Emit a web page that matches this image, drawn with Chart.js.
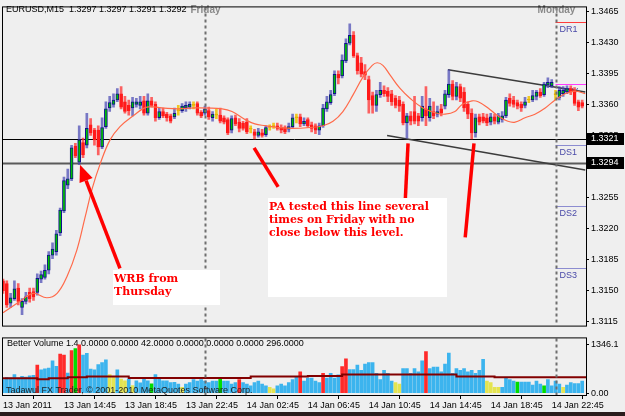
<!DOCTYPE html>
<html>
<head>
<meta charset="utf-8">
<script src="https://cdn.jsdelivr.net/npm/chart.js@4.4.1/dist/chart.umd.min.js"></script>
<style>
  html, body { margin: 0; padding: 0; background: #efefef; }
  #wrap { position: relative; width: 625px; height: 416px; overflow: hidden; background: #efefef; }
  #priceChart { position: absolute; left: 0; top: 0; }
  #volChart { position: absolute; left: 0; top: 331px; }
  #bottomBar { position: absolute; left: 0; top: 412px; width: 625px; height: 4px; background: #2a1c1c; }
</style>
</head>
<body>
<div id="wrap">
  <canvas id="priceChart" width="625" height="333"></canvas>
  <canvas id="volChart" width="625" height="81"></canvas>
  <div id="bottomBar"></div>
</div>
<script>
// ---- EURUSD M15 candles (bar index 0 = 13 Jan 10:45) ----
const opens = [
  1.3161,1.3158,1.3136,1.3141,1.3153,1.3131,1.3138,1.3148,1.3149,1.3148,
  1.3163,1.3165,1.3173,1.3190,1.3194,1.3215,1.3240,1.3269,1.3276,1.3313,
  1.3295,1.3317,1.3314,1.3337,1.3331,1.3331,1.3312,1.3335,1.3356,1.3360,
  1.3365,1.3372,1.3363,1.3359,1.3356,1.3360,1.3359,1.3364,1.3350,1.3364,
  1.3360,1.3345,1.3352,1.3349,1.3347,1.3346,1.3353,1.3353,1.3356,1.3357,
  1.3359,1.3361,1.3351,1.3350,1.3353,1.3345,1.3348,1.3348,1.3345,1.3343,
  1.3331,1.3345,1.3340,1.3339,1.3340,1.3332,1.3329,1.3325,1.3328,1.3326,
  1.3334,1.3335,1.3336,1.3334,1.3334,1.3332,1.3335,1.3345,1.3346,1.3338,
  1.3343,1.3337,1.3336,1.3331,1.3336,1.3355,1.3362,1.3372,1.3394,1.3392,
  1.3409,1.3429,1.3438,1.3415,1.3407,1.3397,1.3388,1.3370,1.3359,1.3371,
  1.3376,1.3375,1.3372,1.3367,1.3365,1.3360,1.3339,1.3347,1.3352,1.3347,
  1.3345,1.3355,1.3345,1.3352,1.3349,1.3355,1.3358,1.3371,1.3383,1.3369,
  1.3380,1.3374,1.3360,1.3350,1.3328,1.3346,1.3346,1.3345,1.3340,1.3346,
  1.3340,1.3343,1.3347,1.3367,1.3365,1.3362,1.3360,1.3359,1.3365,1.3365,
  1.3369,1.3374,1.3371,1.3382,1.3381,1.3371,1.3368,1.3372,1.3374,1.3378,
  1.3376,1.3363,1.3362
];
const highs = [
  1.3163,1.3161,1.3147,1.3161,1.3158,1.3141,1.3148,1.3153,1.3153,1.3169,
  1.3172,1.3179,1.3194,1.3204,1.3218,1.3243,1.3278,1.3287,1.3314,1.3316,
  1.3336,1.3322,1.3350,1.3344,1.3333,1.3336,1.3345,1.3363,1.3369,1.3372,
  1.3378,1.3380,1.3369,1.3365,1.3368,1.3367,1.3369,1.3369,1.3372,1.3368,
  1.3363,1.3356,1.3356,1.3351,1.3349,1.3356,1.3359,1.3361,1.3363,1.3363,
  1.3363,1.3363,1.3353,1.3358,1.3357,1.3352,1.3355,1.3356,1.3347,1.3345,
  1.3347,1.3348,1.3344,1.3341,1.3344,1.3336,1.3332,1.3333,1.3332,1.3336,
  1.3337,1.3339,1.3339,1.3337,1.3336,1.3339,1.3349,1.3349,1.3349,1.3345,
  1.3345,1.3340,1.3338,1.3339,1.3360,1.3369,1.3376,1.3398,1.3398,1.3416,
  1.3434,1.3451,1.3442,1.3418,1.3413,1.3405,1.3392,1.3374,1.3376,1.3385,
  1.3381,1.3379,1.3376,1.3370,1.3369,1.3363,1.3350,1.3352,1.3369,1.3350,
  1.3369,1.3380,1.3367,1.3363,1.3358,1.3360,1.3376,1.3399,1.3387,1.3385,
  1.3383,1.3379,1.3363,1.3355,1.3349,1.3349,1.3350,1.3349,1.3350,1.3349,
  1.3350,1.3352,1.3368,1.3372,1.3369,1.3365,1.3363,1.3368,1.3369,1.3376,
  1.3376,1.3378,1.3385,1.3390,1.3388,1.3376,1.3380,1.3380,1.3381,1.3381,
  1.3379,1.3365,1.3365
];
const lows = [
  1.3147,1.3131,1.3131,1.3139,1.3134,1.3123,1.3135,1.3137,1.3139,1.3145,
  1.3159,1.3163,1.3169,1.3186,1.3190,1.3212,1.3238,1.3265,1.3274,1.3300,
  1.3292,1.3300,1.3311,1.3325,1.3314,1.3303,1.3310,1.3333,1.3352,1.3357,
  1.3363,1.3355,1.3350,1.3348,1.3347,1.3357,1.3355,1.3348,1.3348,1.3357,
  1.3341,1.3343,1.3345,1.3341,1.3339,1.3344,1.3348,1.3351,1.3352,1.3355,
  1.3355,1.3348,1.3345,1.3348,1.3343,1.3341,1.3344,1.3339,1.3338,1.3326,
  1.3328,1.3336,1.3329,1.3331,1.3327,1.3328,1.3321,1.3323,1.3323,1.3324,
  1.3331,1.3333,1.3331,1.3328,1.3327,1.3329,1.3333,1.3339,1.3335,1.3336,
  1.3334,1.3329,1.3327,1.3326,1.3334,1.3352,1.3360,1.3370,1.3383,1.3390,
  1.3407,1.3427,1.3413,1.3394,1.3391,1.3388,1.3350,1.3350,1.3352,1.3368,
  1.3369,1.3363,1.3359,1.3356,1.3352,1.3337,1.3322,1.3337,1.3338,1.3336,
  1.3341,1.3336,1.3341,1.3344,1.3346,1.3347,1.3355,1.3368,1.3365,1.3365,
  1.3363,1.3352,1.3344,1.3321,1.3323,1.3337,1.3339,1.3336,1.3337,1.3338,
  1.3338,1.3340,1.3345,1.3358,1.3357,1.3355,1.3352,1.3356,1.3362,1.3363,
  1.3365,1.3368,1.3369,1.3379,1.3379,1.3365,1.3365,1.3369,1.3372,1.3371,
  1.3359,1.3353,1.3356
];
const closes = [
  1.3150,1.3134,1.3142,1.3152,1.3138,1.3138,1.3143,1.3141,1.3143,1.3164,
  1.3168,1.3173,1.3190,1.3197,1.3214,1.3241,1.3274,1.3276,1.3311,1.3302,
  1.3320,1.3303,1.3333,1.3328,1.3320,1.3312,1.3334,1.3355,1.3362,1.3365,
  1.3372,1.3357,1.3352,1.3353,1.3363,1.3363,1.3363,1.3350,1.3364,1.3359,
  1.3345,1.3352,1.3347,1.3345,1.3341,1.3350,1.3353,1.3358,1.3359,1.3360,
  1.3359,1.3350,1.3347,1.3355,1.3346,1.3349,1.3348,1.3341,1.3340,1.3328,
  1.3344,1.3338,1.3333,1.3333,1.3329,1.3332,1.3325,1.3329,1.3325,1.3334,
  1.3334,1.3336,1.3333,1.3331,1.3329,1.3335,1.3345,1.3346,1.3338,1.3341,
  1.3336,1.3333,1.3331,1.3336,1.3356,1.3363,1.3371,1.3394,1.3390,1.3410,
  1.3429,1.3438,1.3415,1.3398,1.3394,1.3393,1.3365,1.3359,1.3371,1.3376,
  1.3372,1.3369,1.3363,1.3359,1.3358,1.3339,1.3347,1.3341,1.3341,1.3341,
  1.3358,1.3347,1.3358,1.3347,1.3352,1.3350,1.3372,1.3383,1.3369,1.3380,
  1.3367,1.3356,1.3349,1.3328,1.3345,1.3340,1.3341,1.3339,1.3346,1.3341,
  1.3347,1.3347,1.3365,1.3361,1.3360,1.3358,1.3356,1.3363,1.3365,1.3370,
  1.3374,1.3370,1.3383,1.3385,1.3385,1.3371,1.3376,1.3376,1.3378,1.3374,
  1.3361,1.3357,1.3358
];
const dojiBars = [46, 50, 56, 65, 70, 71, 77, 138, 145];

// moving average drawn on price (bar index, price)
const emaX = [0,4.5,7.9,11.5,14.2,16.8,19.4,21.5,23.4,25.5,28.1,30.7,34.1,37.8,41.7,45.9,50.4,57.5,60.1,63.5,
  66.1,68.8,72.2,75.9,80.6,84,86.6,89.2,91.9,94.5,96.9,98.2,99.7,101.6,104.2,106.8,110.2,113.9,116,118.6,
  120.5,123.1,124.7,127.3,129.9,132.5,134.4,137,139.6,142.3,144.9,147.5,150.1,152.8];
const emaY = [1.3125,1.3138,1.3147,1.3142,1.3147,1.3166,1.3196,1.3232,1.3265,1.3293,1.3320,1.3335,1.3347,1.3357,1.3356,1.3355,1.3356,1.3355,1.3352,1.3343,
  1.3338,1.3336,1.3334,1.3333,1.3334,1.3336,1.3341,1.3352,1.3371,1.3391,1.3404,1.3407,1.3404,1.3393,1.3378,1.3367,1.3356,1.3350,1.3349,1.3352,
  1.3360,1.3364,1.3363,1.3356,1.3347,1.3341,1.3340,1.3345,1.3349,1.3356,1.3365,1.3372,1.3375,1.3372];

// ---- Better Volume ----
const volumes = [
  380,440,430,520,420,470,450,480,500,780,
  650,680,700,900,750,1090,1060,560,1190,1240,
  1346,1060,1110,670,650,800,850,930,520,470,
  650,390,340,390,210,340,290,390,340,260,
  520,390,340,340,294,300,250,164,250,294,
  379,337,379,337,294,337,337,423,337,337,
  250,294,379,294,250,207,294,337,250,207,
  164,121,207,250,207,294,379,466,596,337,
  423,423,337,294,553,423,553,423,509,742,
  958,656,656,786,639,812,855,855,553,379,
  639,553,337,294,250,682,682,553,682,596,
  898,1157,682,725,725,596,812,1114,553,682,
  639,682,596,639,553,639,941,337,294,164,
  164,164,423,379,337,311,311,311,311,225,
  337,250,207,379,207,337,250,164,225,294,
  270,270,337
];
const climaxBars = [9, 15, 16, 18, 20, 62, 78, 84, 89, 90, 111];
const churnBars = [19, 39, 57, 135, 142];
const lowVolBars = [28, 29, 31, 32, 34, 47, 70, 71, 103, 104, 127, 128, 129, 130, 147];
const volAvgX = [0, 9, 12, 17, 22, 33, 65, 80, 89, 119, 129, 153];
const volAvgY = [414, 389, 414, 440, 466, 422, 466, 480, 518, 466, 440, 440];

// ---- axes ----
const priceTicks = [1.3115, 1.3150, 1.3185, 1.3220, 1.3255, 1.3290, 1.3325, 1.3360, 1.3395, 1.3430, 1.3465];
const volTicks = [0, 1346.1];
const timeTickIdx = [0, 16, 32, 48, 64, 80, 96, 112, 128, 144];
const timeLabels = ['13 Jan 2011', '13 Jan 14:45', '13 Jan 18:45', '13 Jan 22:45', '14 Jan 02:45',
  '14 Jan 06:45', '14 Jan 10:45', '14 Jan 14:45', '14 Jan 18:45', '14 Jan 22:45'];

// ---- objects on the chart ----
const dayBreakIdx = [53, 145];
const dayBreakNames = ['Friday', 'Monday'];
const pivotNames = ['DR1', 'DPV', 'DS1', 'DS2', 'DS3'];
const pivotLevels = [1.3453, 1.3383, 1.3314, 1.3245, 1.3175];
const pivotStart = 145;
const keyLevels = [1.3321, 1.3294];
const trendLines = [[116.8, 1.3399, 152.8, 1.3374], [100.8, 1.3325, 152.8, 1.3286]];
const arrows = [[30.7, 1.3175, 20.2, 1.3292], [65.9, 1.3311, 72.2, 1.3267], [106.3, 1.3316, 105.5, 1.3246], [123.6, 1.3316, 121.3, 1.3210]];
const notes = [
  { from: 28.9, to: 56.9, top: 1.3173, bottom: 1.3134, lines: ['WRB from', 'Thursday'] },
  { from: 69.6, to: 116.5, top: 1.3255, bottom: 1.3143, lines: ['PA tested this line several', 'times on Friday with no', 'close below this level.'] }
];

const UI_FONT = '"Liberation Sans", Arial, sans-serif';

const candleColor = i => {
  if (dojiBars.includes(i)) return '#f0c000';
  return closes[i] >= opens[i] ? '#00c000' : '#ff1a1a';
};
const candleEdge = i => {
  if (dojiBars.includes(i)) return '#e0b000';
  return closes[i] >= opens[i] ? '#10108c' : '#ff1a1a';
};
const wickColor = i => {
  if (dojiBars.includes(i)) return 'rgba(240,192,0,0.85)';
  return closes[i] >= opens[i] ? 'rgba(70,70,180,0.7)' : 'rgba(255,50,50,0.75)';
};
const volColor = i => {
  if (climaxBars.includes(i)) return '#ff2a2a';
  if (churnBars.includes(i)) return '#00dd00';
  if (lowVolBars.includes(i)) return '#e4e450';
  return '#3cb4ee';
};

function drawDayBreaks(chart, withLabels) {
  const { ctx, chartArea: a, scales: { x } } = chart;
  ctx.save();
  ctx.strokeStyle = '#6e6e6e';
  ctx.lineWidth = 2;
  ctx.setLineDash([3, 3]);
  dayBreakIdx.forEach((idx, k) => {
    const px = Math.round(x.getPixelForValue(idx)) + 0.5;
    ctx.beginPath();
    ctx.moveTo(px, a.top);
    ctx.lineTo(px, a.bottom);
    ctx.stroke();
    if (withLabels) {
      ctx.font = 'bold 10px ' + UI_FONT;
      ctx.fillStyle = '#8a8a8a';
      ctx.textAlign = 'center';
      ctx.textBaseline = 'middle';
      ctx.fillText(dayBreakNames[k], px, 10);
    }
  });
  ctx.restore();
}

const priceDecor = {
  id: 'priceDecor',
  beforeDatasetsDraw(chart) {
    const { ctx, chartArea: a, scales: { x, y } } = chart;
    ctx.save();
    ctx.beginPath();
    ctx.rect(a.left, a.top, a.right - a.left, a.bottom - a.top);
    ctx.clip();

    // pivot levels of the new day
    const x0 = x.getPixelForValue(pivotStart);
    ctx.font = '9px ' + UI_FONT;
    ctx.textBaseline = 'middle';
    ctx.textAlign = 'left';
    pivotLevels.forEach((lv, k) => {
      const py = Math.round(y.getPixelForValue(lv)) + 0.5;
      ctx.strokeStyle = k === 0 ? '#ff3c3c' : k === 1 ? '#ff3cff' : '#8c8cd0';
      ctx.lineWidth = 1;
      ctx.beginPath();
      ctx.moveTo(x0, py);
      ctx.lineTo(a.right, py);
      ctx.stroke();
      ctx.fillStyle = '#4a4aa8';
      ctx.fillText(pivotNames[k], x0 + 4, py + 7);
    });

    // horizontal support lines
    keyLevels.forEach((lv, k) => {
      const py = Math.round(y.getPixelForValue(lv)) + 0.5;
      ctx.strokeStyle = k === 0 ? '#000' : '#5a5a5a';
      ctx.lineWidth = k === 0 ? 1 : 2;
      ctx.beginPath();
      ctx.moveTo(a.left, py);
      ctx.lineTo(a.right, py);
      ctx.stroke();
    });

    // trend lines
    ctx.strokeStyle = '#3c3c3c';
    ctx.lineWidth = 1.5;
    trendLines.forEach(t => {
      ctx.beginPath();
      ctx.moveTo(x.getPixelForValue(t[0]), y.getPixelForValue(t[1]));
      ctx.lineTo(x.getPixelForValue(t[2]), y.getPixelForValue(t[3]));
      ctx.stroke();
    });
    ctx.restore();
  },
  afterDatasetsDraw(chart) {
    const { ctx, chartArea: a, scales: { x, y } } = chart;
    drawDayBreaks(chart, true);

    ctx.save();
    // red arrows
    ctx.strokeStyle = '#ff0000';
    ctx.fillStyle = '#ff0000';
    ctx.lineWidth = 3.5;
    arrows.forEach((ar, k) => {
      const x1 = x.getPixelForValue(ar[0]), y1 = y.getPixelForValue(ar[1]);
      const x2 = x.getPixelForValue(ar[2]), y2 = y.getPixelForValue(ar[3]);
      if (k === 0) {
        const ang = Math.atan2(y2 - y1, x2 - x1);
        const len = 17, half = 7;
        const bx = x2 - len * Math.cos(ang), by = y2 - len * Math.sin(ang);
        ctx.beginPath();
        ctx.moveTo(x1, y1);
        ctx.lineTo(bx, by);
        ctx.stroke();
        ctx.beginPath();
        ctx.moveTo(x2, y2);
        ctx.lineTo(bx + half * Math.sin(ang), by - half * Math.cos(ang));
        ctx.lineTo(bx - half * Math.sin(ang), by + half * Math.cos(ang));
        ctx.closePath();
        ctx.fill();
      } else {
        ctx.beginPath();
        ctx.moveTo(x1, y1);
        ctx.lineTo(x2, y2);
        ctx.stroke();
      }
    });

    // note boxes
    notes.forEach(n => {
      const l = Math.round(x.getPixelForValue(n.from));
      const r = Math.round(x.getPixelForValue(n.to));
      const t = Math.round(y.getPixelForValue(n.top));
      const b = Math.round(y.getPixelForValue(n.bottom));
      ctx.fillStyle = '#ffffff';
      ctx.fillRect(l, t, r - l, b - t);
      ctx.fillStyle = '#ff0000';
      ctx.font = 'bold 11px "DejaVu Serif", serif';
      ctx.textAlign = 'left';
      ctx.textBaseline = 'alphabetic';
      n.lines.forEach((line, k) => ctx.fillText(line, l + 1, t + 12 + k * 13));
    });

    // panel frame
    ctx.strokeStyle = '#000';
    ctx.lineWidth = 1;
    ctx.strokeRect(a.left - 0.5, a.top - 0.5, a.right - a.left + 1, a.bottom - a.top + 1);

    // header
    ctx.font = '9px ' + UI_FONT;
    ctx.fillStyle = '#000';
    ctx.textAlign = 'left';
    ctx.textBaseline = 'middle';
    ctx.fillText('EURUSD,M15  1.3297 1.3297 1.3291 1.3292', 6, 10);
    ctx.restore();
  },
  afterDraw(chart) {
    const { ctx, chartArea: a, scales: { y } } = chart;
    ctx.save();
    ctx.font = '9px ' + UI_FONT;
    ctx.textBaseline = 'middle';
    ctx.textAlign = 'left';
    keyLevels.forEach(lv => {
      const py = Math.round(y.getPixelForValue(lv));
      ctx.fillStyle = '#000';
      ctx.fillRect(a.right + 1, py - 6, 37, 12);
      ctx.fillStyle = '#fff';
      ctx.fillText(lv.toFixed(4), a.right + 5, py);
    });
    ctx.restore();
  }
};

const volDecor = {
  id: 'volDecor',
  beforeDatasetsDraw(chart) {
    const { ctx } = chart;
    ctx.save();
    ctx.font = '9px ' + UI_FONT;
    ctx.fillStyle = '#000';
    ctx.textBaseline = 'middle';
    ctx.fillText('Better Volume 1.4 0.0000 0.0000 42.0000 0.0000 0.0000 0.0000 296.0000', 7, 13);
    ctx.restore();
  },
  afterDatasetsDraw(chart) {
    const { ctx, chartArea: a } = chart;
    drawDayBreaks(chart, false);
    ctx.save();
    ctx.font = '9px ' + UI_FONT;
    ctx.fillStyle = '#1e1e1e';
    ctx.textBaseline = 'middle';
    ctx.fillText('Tadawul FX Trader, \u00a9 2001-2010 MetaQuotes Software Corp.', 6, 60);
    ctx.strokeStyle = '#000';
    ctx.lineWidth = 1;
    ctx.strokeRect(a.left - 0.5, a.top - 0.5, a.right - a.left + 1, a.bottom - a.top + 1);
    ctx.restore();
  }
};

const noPlugins = { legend: { display: false }, tooltip: { enabled: false } };

new Chart(document.getElementById('priceChart'), {
  type: 'bar',
  data: {
    datasets: [
      {
        type: 'line',
        data: emaX.map((v, k) => ({ x: v, y: emaY[k] })),
        borderColor: '#ff6a4a',
        borderWidth: 1.2,
        pointRadius: 0,
        tension: 0.4,
        order: 0
      },
      {
        data: opens.map((o, i) => ({ x: i, y: [o, closes[i]] })),
        backgroundColor: c => candleColor(c.dataIndex),
        borderColor: c => candleEdge(c.dataIndex),
        borderWidth: 1,
        borderSkipped: false,
        barThickness: 3,
        minBarLength: 1,
        grouped: false,
        order: 1
      },
      {
        data: lows.map((l, i) => ({ x: i, y: [l, highs[i]] })),
        backgroundColor: c => wickColor(c.dataIndex),
        barThickness: 2,
        grouped: false,
        order: 2
      }
    ]
  },
  options: {
    responsive: false,
    animation: false,
    layout: { padding: { left: 3, top: 3, bottom: 2, right: 0 } },
    plugins: noPlugins,
    scales: {
      x: { type: 'linear', min: 0, max: 153, offset: false, display: false },
      y: {
        position: 'right',
        min: 1.31106,
        max: 1.34694,
        afterFit: s => { s.width = 39; },
        afterBuildTicks: s => { s.ticks = priceTicks.map(v => ({ value: v })); },
        ticks: { font: { family: UI_FONT, size: 9 }, color: '#000', padding: 2, callback: v => Number(v).toFixed(4) },
        grid: { drawOnChartArea: false, tickLength: 3, color: '#000' },
        border: { display: true, color: '#000' }
      }
    }
  },
  plugins: [priceDecor]
});

new Chart(document.getElementById('volChart'), {
  type: 'bar',
  data: {
    datasets: [
      {
        type: 'line',
        data: volAvgX.map((v, k) => ({ x: v, y: volAvgY[k] })),
        borderColor: '#820000',
        borderWidth: 2,
        pointRadius: 0,
        stepped: true,
        order: 0
      },
      {
        data: volumes.map((v, i) => ({ x: i, y: v })),
        backgroundColor: c => volColor(c.dataIndex),
        barThickness: 3,
        grouped: false,
        order: 1
      }
    ]
  },
  options: {
    responsive: false,
    animation: false,
    layout: { padding: { left: 3, top: 3, bottom: 0, right: 0 } },
    plugins: noPlugins,
    scales: {
      x: {
        type: 'linear', min: 0, max: 153, offset: false,
        afterFit: s => { s.height = 17; },
        afterBuildTicks: s => { s.ticks = timeTickIdx.map(v => ({ value: v })); },
        ticks: {
          font: { family: UI_FONT, size: 9 }, color: '#000', padding: 1,
          align: 'start', maxRotation: 0, autoSkip: false,
          callback: (v, k) => timeLabels[k]
        },
        grid: { drawOnChartArea: false, tickLength: 4, color: '#000' },
        border: { display: true, color: '#000' }
      },
      y: {
        position: 'right',
        min: -52,
        max: 1527,
        afterFit: s => { s.width = 39; },
        afterBuildTicks: s => { s.ticks = volTicks.map(v => ({ value: v })); },
        ticks: { font: { family: UI_FONT, size: 9 }, color: '#000', padding: 2, callback: v => v === 0 ? '0.00' : Number(v).toFixed(1) },
        grid: { drawOnChartArea: false, tickLength: 3, color: '#000' },
        border: { display: true, color: '#000' }
      }
    }
  },
  plugins: [volDecor]
});
</script>
</body>
</html>
